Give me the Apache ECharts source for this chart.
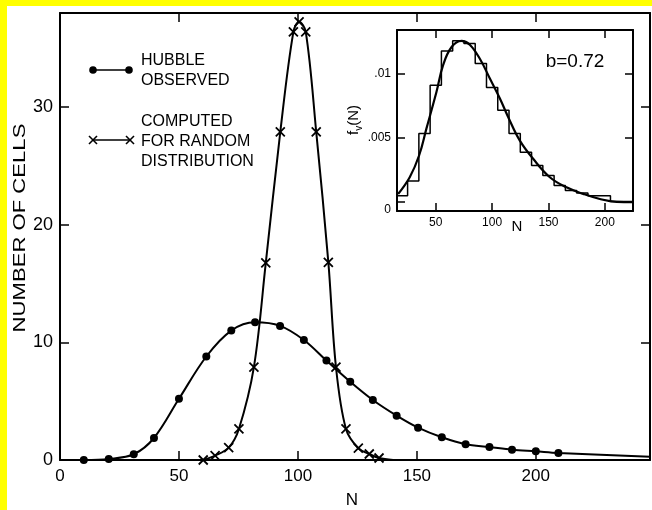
<!DOCTYPE html>
<html>
<head>
<meta charset="utf-8">
<title>Number of cells</title>
<script src="https://cdn.jsdelivr.net/npm/echarts@6/dist/echarts.min.js"></script>
<style>
  html, body { margin: 0; padding: 0; background: #fff; }
  #main { width: 652px; height: 510px; }
</style>
</head>
<body>
<div id="main"></div>
<script>
// main panel: Hubble observed counts (dots)
var hubbleN   = [10, 20.5, 31, 39.5, 50, 61.5, 72, 82, 92.5, 102.5, 112, 122, 131.5, 141.5, 150.5, 160.5, 170.5, 180.5, 190, 200, 209.5];
var hubbleVal = [0, 0.09, 0.49, 1.87, 5.2, 8.8, 11.0, 11.7, 11.4, 10.2, 8.45, 6.65, 5.1, 3.77, 2.75, 1.93, 1.34, 1.11, 0.88, 0.74, 0.6];
var hubbleTail = [248, 0.28];

// computed for a random distribution (crosses)
var randomN   = [60.2, 65.2, 70.9, 75.2, 81.5, 86.5, 92.6, 98.1, 100.5, 103.3, 107.7, 112.8, 116, 120.2, 125.4, 130, 134.1];
var randomVal = [0, 0.37, 1.05, 2.64, 7.9, 16.75, 27.9, 36.4, 37.25, 36.4, 27.9, 16.8, 7.9, 2.64, 1.0, 0.51, 0.17];
var randomTail = [140, 0];

var mainXTicks = [0, 50, 100, 150, 200];
var mainYTicks = [0, 10, 20, 30];

// inset: histogram of f_v(N), bins given by left edge
var histLeft = [15.6, 25, 35, 45, 55, 65, 75, 85, 95, 105, 115, 125, 135, 145, 155, 165, 175, 185, 205];
var histVal  = [0.0005, 0.00165, 0.00535, 0.00914, 0.0118, 0.0126, 0.0124, 0.01084, 0.00896, 0.00717, 0.00535, 0.0039, 0.00286, 0.00207, 0.00129, 0.0009, 0.00071, 0.0005, 0.00005];
var histEnd  = 225;

// inset: fitted curve
var fvN   = [16.6, 26.9, 35.2, 41.7, 50.6, 56.5, 63.9, 72.8, 80.2, 89.1, 98, 106.9, 114.2, 124.6, 136.4, 151.2, 166, 180.8, 195.6, 210.5, 225];
var fvVal = [0.00063, 0.00194, 0.00364, 0.00574, 0.0086, 0.0107, 0.0121, 0.0126, 0.0123, 0.0112, 0.00966, 0.0081, 0.00665, 0.0048, 0.00338, 0.00194, 0.00115, 0.00064, 0.00024, 0.00002, 0];

var insetXTicks = [50, 100, 150, 200];
var insetYTicks = [0, 0.005, 0.01];

var FONT = "'Liberation Sans', Arial, sans-serif";
var black = '#000';

var chart = echarts.init(document.getElementById('main'));

function pairs(xs, ys) {
  return xs.map(function (x, i) { return [x, ys[i]]; });
}

var hubbleData = pairs(hubbleN, hubbleVal);
hubbleData.push({ value: hubbleTail, symbol: 'none' });
var randomData = pairs(randomN, randomVal);
randomData.push({ value: randomTail, symbol: 'none' });
var histData = pairs(histLeft, histVal);
histData.push([histEnd, histVal[histVal.length - 1]]);

var crossPath = 'path://M0,0L10,10M10,0L0,10';

function frameAxis(o) {
  // common look for the box axes
  var a = {
    type: 'value',
    min: o.min, max: o.max,
    gridIndex: o.grid,
    position: o.pos,
    axisLine: { show: true, onZero: false, lineStyle: { color: black, width: 2 } },
    axisTick: { show: true, inside: true, length: o.tickLen, customValues: o.ticks, lineStyle: { color: black, width: 1.5 } },
    axisLabel: { show: false },
    splitLine: { show: false }
  };
  if (o.labels) {
    a.axisLabel = {
      show: true, customValues: o.ticks, color: black, fontFamily: FONT,
      fontSize: o.fontSize, margin: o.margin
    };
    if (o.formatter) a.axisLabel.formatter = o.formatter;
    if (o.rich) a.axisLabel.rich = o.rich;
  }
  return a;
}

function cross(cx, cy) {
  return [
    { type: 'line', shape: { x1: cx - 4, y1: cy - 4, x2: cx + 4, y2: cy + 4 }, style: { stroke: black, lineWidth: 1.6 } },
    { type: 'line', shape: { x1: cx + 4, y1: cy - 4, x2: cx - 4, y2: cy + 4 }, style: { stroke: black, lineWidth: 1.6 } }
  ];
}

var graphics = [
  // yellow page edges
  { type: 'rect', shape: { x: 0, y: 0, width: 652, height: 6 }, style: { fill: '#ffff00' } },
  { type: 'rect', shape: { x: 0, y: 0, width: 7, height: 510 }, style: { fill: '#ffff00' } },
  // legend
  { type: 'line', shape: { x1: 93, y1: 70, x2: 129, y2: 70 }, style: { stroke: black, lineWidth: 1.6 } },
  { type: 'circle', shape: { cx: 93, cy: 70, r: 3.8 }, style: { fill: black } },
  { type: 'circle', shape: { cx: 129, cy: 70, r: 3.8 }, style: { fill: black } },
  { type: 'text', x: 141, y: 61, style: { text: 'HUBBLE', font: '16px ' + FONT, fill: black, verticalAlign: 'middle' } },
  { type: 'text', x: 141, y: 81, style: { text: 'OBSERVED', font: '16px ' + FONT, fill: black, verticalAlign: 'middle' } },
  { type: 'line', shape: { x1: 93, y1: 140, x2: 130, y2: 140 }, style: { stroke: black, lineWidth: 1.6 } },
  { type: 'text', x: 141, y: 122, style: { text: 'COMPUTED', font: '16px ' + FONT, fill: black, verticalAlign: 'middle' } },
  { type: 'text', x: 141, y: 142, style: { text: 'FOR RANDOM', font: '16px ' + FONT, fill: black, verticalAlign: 'middle' } },
  { type: 'text', x: 141, y: 162, style: { text: 'DISTRIBUTION', font: '16px ' + FONT, fill: black, verticalAlign: 'middle' } },
  // axis titles
  { type: 'text', x: 352, y: 500, style: { text: 'N', font: '17px ' + FONT, fill: black, align: 'center', verticalAlign: 'middle' } },
  { type: 'text', x: 20, y: 228, rotation: Math.PI / 2, scaleX: 1.3,
    style: { text: 'NUMBER OF CELLS', font: '17px ' + FONT, fill: black, align: 'center', verticalAlign: 'middle' } },
  // inset titles
  { type: 'text', x: 517, y: 227, style: { text: 'N', font: '15px ' + FONT, fill: black, align: 'center', verticalAlign: 'middle' } },
  { type: 'text', x: 575, y: 62, style: { text: 'b=0.72', font: '19px ' + FONT, fill: black, align: 'center', verticalAlign: 'middle' } },
  { type: 'text', x: 354, y: 120, rotation: Math.PI / 2,
    style: {
      text: '{a|f}{s|v}{a|(N)}', align: 'center', verticalAlign: 'middle',
      rich: {
        a: { fontSize: 15, fontFamily: FONT, fill: black, lineHeight: 20, verticalAlign: 'middle' },
        s: { fontSize: 10, fontFamily: FONT, fill: black, lineHeight: 20, padding: [10, 0, 0, 0] }
      }
    }
  }
].concat(cross(93, 140), cross(130, 140));

var option = {
  backgroundColor: '#fff',
  animation: false,
  grid: [
    { left: 60, top: 13, right: 2, bottom: 50, outerBoundsMode: 'none' },
    { left: 397, top: 30, width: 236, height: 181, show: true, backgroundColor: '#fff', borderWidth: 0, outerBoundsMode: 'none' }
  ],
  xAxis: [
    frameAxis({ grid: 0, pos: 'bottom', min: 0, max: 248, ticks: mainXTicks, tickLen: 9, labels: true, fontSize: 17, margin: 8 }),
    frameAxis({ grid: 0, pos: 'top', min: 0, max: 248, ticks: [50, 100, 150, 200], tickLen: 9 }),
    frameAxis({ grid: 1, pos: 'bottom', min: 15.6, max: 225, ticks: insetXTicks, tickLen: 8, labels: true, fontSize: 12, margin: 6 }),
    frameAxis({ grid: 1, pos: 'top', min: 15.6, max: 225, ticks: insetXTicks, tickLen: 8 })
  ],
  yAxis: [
    frameAxis({ grid: 0, pos: 'left', min: 0, max: 38, ticks: mainYTicks, tickLen: 9, labels: true, fontSize: 18, margin: 7 }),
    frameAxis({ grid: 0, pos: 'right', min: 0, max: 38, ticks: [10, 20, 30], tickLen: 9 }),
    frameAxis({ grid: 1, pos: 'left', min: -0.0007, max: 0.01345, ticks: insetYTicks, tickLen: 8, labels: true, fontSize: 12, margin: 6,
      formatter: function (v) {
        if (v === 0) return '{z|0}';
        return String(+v.toFixed(4)).replace(/^0\./, '.');
      },
      rich: { z: { fontSize: 12, fontFamily: FONT, color: black, padding: [16, 0, 0, 0] } }
    }),
    frameAxis({ grid: 1, pos: 'right', min: -0.0007, max: 0.01345, ticks: [0.005, 0.01], tickLen: 8 })
  ],
  series: [
    {
      name: 'Hubble observed', type: 'line', xAxisIndex: 0, yAxisIndex: 0,
      data: hubbleData, smooth: 0.35,
      symbol: 'circle', symbolSize: 8,
      lineStyle: { color: black, width: 2 },
      itemStyle: { color: black }
    },
    {
      name: 'Computed for random distribution', type: 'line', xAxisIndex: 0, yAxisIndex: 0,
      data: randomData, smooth: 0.35,
      symbol: crossPath, symbolSize: 9,
      lineStyle: { color: black, width: 2 },
      itemStyle: { color: black, borderColor: black, borderWidth: 1.8 }
    },
    {
      name: 'histogram', type: 'line', xAxisIndex: 2, yAxisIndex: 2,
      data: histData, step: 'end', symbol: 'none',
      lineStyle: { color: black, width: 1.5 }
    },
    {
      name: 'fv', type: 'line', xAxisIndex: 2, yAxisIndex: 2,
      data: pairs(fvN, fvVal), smooth: 0.4, symbol: 'none',
      lineStyle: { color: black, width: 2.2 }
    }
  ],
  graphic: graphics
};

chart.setOption(option);
</script>
</body>
</html>
